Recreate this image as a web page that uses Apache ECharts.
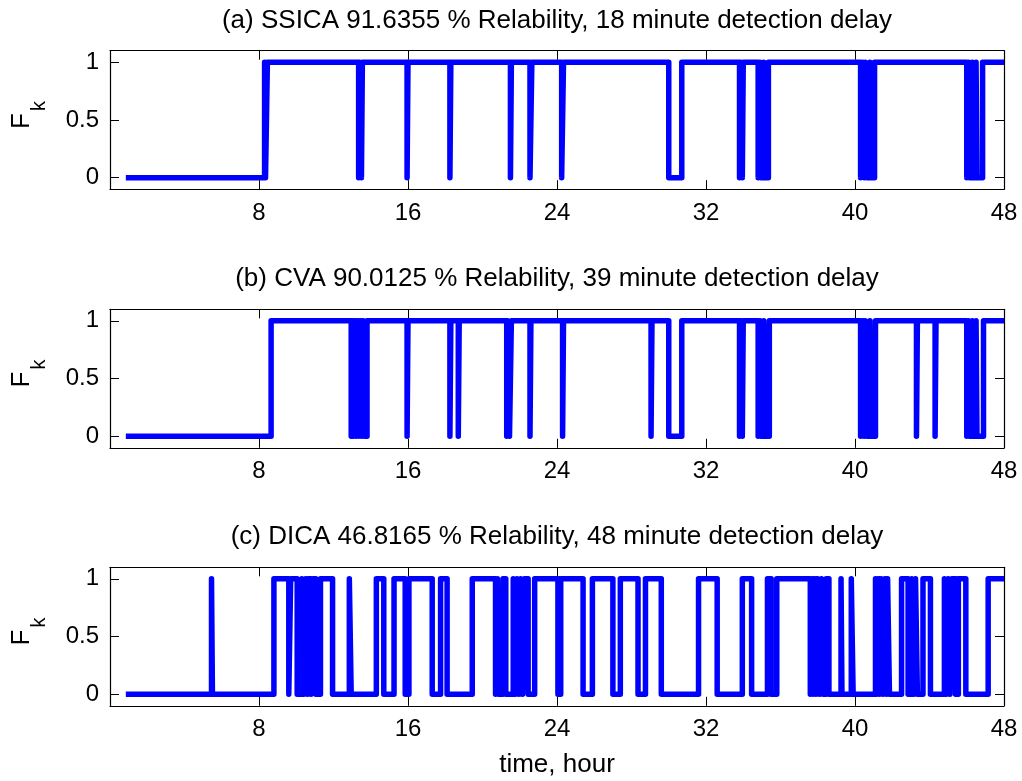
<!DOCTYPE html>
<html>
<head>
<meta charset="utf-8">
<script src="https://cdn.jsdelivr.net/npm/echarts@6/dist/echarts.min.js"></script>
<style>
html,body{margin:0;padding:0;background:#fff;}
#chart{width:1022px;height:781px;}
</style>
</head>
<body>
<div id="chart"></div>
<script>
// ---- data (hours) ----
const panelTitles = [
  '(a) SSICA 91.6355 % Relability, 18 minute detection delay',
  '(b) CVA 90.0125 % Relability, 39 minute detection delay',
  '(c) DICA 46.8165 % Relability, 48 minute detection delay'
];
const xTicks = [8, 16, 24, 32, 40, 48];
const yTicks = [0, 0.5, 1];
const tStart = 0.85;
const tEnd = 48;
// switch times of F_k (state toggles at each listed time, starting from 0)
const ssicaSwitch = [8.3, 8.35, 8.45,
  13.35, 13.4, 13.5, 13.55,
  15.95, 16.0,
  18.25, 18.3,
  21.5, 21.55,
  22.55, 22.65,
  24.25, 24.35,
  30.0, 30.7,
  33.8, 33.85, 33.95, 34.0,
  34.8, 34.9, 34.95, 35.1, 35.2, 35.35,
  40.3, 40.4, 40.5, 40.55, 40.65, 40.8, 40.85, 41.05,
  46.0, 46.1, 46.15, 46.3, 46.35, 46.5, 46.55, 46.85];
const cvaSwitch = [8.65,
  12.95, 13.0, 13.05, 13.15, 13.2, 13.3, 13.35, 13.45, 13.5, 13.6, 13.65, 13.8,
  15.95, 16.0,
  18.25, 18.3, 18.7, 18.75,
  21.3, 21.35, 21.45, 21.55,
  22.55, 22.6,
  24.3, 24.35,
  29.05, 29.1,
  30.0, 30.7,
  33.8, 33.85, 33.95, 34.0,
  34.8, 34.9, 34.95, 35.1, 35.2, 35.4,
  40.3, 40.4, 40.5, 40.55, 40.65, 40.8, 40.85, 41.1,
  43.3, 43.35,
  44.3, 44.35,
  46.0, 46.1, 46.15, 46.3, 46.35, 46.5, 46.55, 46.9];
const dicaSwitch = [5.45, 5.5,
  8.8, 9.6, 9.7, 10.05,
  10.3, 10.4, 10.5, 10.6, 10.65, 10.8, 10.9, 11.05, 11.3, 11.95,
  12.85, 12.95,
  14.3, 14.7,
  15.25, 15.85, 16.05, 17.3,
  17.75, 18.1,
  19.45, 20.7, 20.8, 20.85, 21.1, 21.25,
  21.65, 21.75, 21.85, 21.95, 22.05, 22.15, 22.25, 22.45,
  22.8, 24.05, 24.2, 25.4,
  25.9, 27.0,
  27.4, 28.35,
  28.75, 29.6,
  31.6, 32.6,
  33.95, 34.45,
  35.3, 35.5,
  35.8, 37.6, 37.7, 37.75, 37.85, 37.9, 38.0, 38.1, 38.2, 38.3, 38.45, 38.6,
  39.25, 39.3,
  39.8, 39.9,
  41.1, 41.15, 41.25, 41.3, 41.4, 41.5, 41.6, 41.7, 41.75, 41.85,
  42.5, 42.85,
  43.05, 43.15, 43.25, 43.35,
  43.65, 44.05,
  44.8, 44.9, 45.0, 45.1, 45.2, 45.4,
  45.55, 45.95,
  47.15];
const panelSwitches = [ssicaSwitch, cvaSwitch, dicaSwitch];

// ---- layout ----
const FONT = 'Liberation Sans, Arial, Helvetica, sans-serif';
const gridLeft = 110, gridWidth = 894, gridHeight = 138.5;
const gridTops = [50.7, 309.3, 567.3];

// explicit vertical steps: at each switch time, a point at the old and the new state
function buildSteps(sw) {
  const pts = [[tStart, 0]];
  let v = 0;
  sw.forEach(t => { pts.push([t, v]); v = 1 - v; pts.push([t, v]); });
  pts.push([tEnd, v]);
  return pts;
}

const grids = [], xAxes = [], yAxes = [], series = [], graphics = [];
gridTops.forEach((top, i) => {
  grids.push({left: gridLeft, top: top, width: gridWidth, height: gridHeight, show: false});
  const axLine = {show: true, onZero: false, lineStyle: {color: '#000', width: 1.2}};
  const tick = {show: true, inside: true, length: 9, lineStyle: {color: '#000', width: 1}};
  xAxes.push({type: 'value', gridIndex: i, position: 'bottom', min: 0, max: 48, interval: 8,
    axisLine: axLine, axisTick: tick, splitLine: {show: false},
    axisLabel: {show: true, showMinLabel: false, margin: 12, color: '#000', fontSize: 24, fontFamily: FONT}});
  xAxes.push({type: 'value', gridIndex: i, position: 'top', min: 0, max: 48, interval: 8,
    axisLine: axLine, axisTick: tick, splitLine: {show: false}, axisLabel: {show: false}});
  yAxes.push({type: 'value', gridIndex: i, position: 'left', min: -0.1, max: 1.1,
    axisLine: axLine, splitLine: {show: false},
    axisTick: Object.assign({customValues: yTicks}, tick),
    axisLabel: {show: true, customValues: yTicks, margin: 11, color: '#000', fontSize: 24, fontFamily: FONT,
      formatter: v => String(Math.round(v * 10) / 10)}});
  yAxes.push({type: 'value', gridIndex: i, position: 'right', min: -0.1, max: 1.1,
    axisLine: axLine, splitLine: {show: false},
    axisTick: Object.assign({customValues: yTicks}, tick),
    axisLabel: {show: false}});
  series.push({type: 'line', xAxisIndex: 2 * i, yAxisIndex: 2 * i, data: buildSteps(panelSwitches[i]),
    showSymbol: false, symbol: 'none', animation: false, silent: true,
    lineStyle: {color: '#0000ff', width: 5.5, join: 'round', cap: 'butt'}});
  graphics.push({type: 'text', x: gridLeft + gridWidth / 2, y: top - 30,
    style: {text: panelTitles[i], fill: '#000', font: '26px ' + FONT, align: 'center', verticalAlign: 'middle'}});
  const yc = top + gridHeight / 2 - 2;
  graphics.push({type: 'text', x: 22, y: yc + 3, rotation: Math.PI / 2,
    style: {text: 'F', fill: '#000', font: '26px ' + FONT, align: 'center', verticalAlign: 'middle'}});
  graphics.push({type: 'text', x: 39, y: yc - 12, rotation: Math.PI / 2,
    style: {text: 'k', fill: '#000', font: '20px ' + FONT, align: 'center', verticalAlign: 'middle'}});
});
graphics.push({type: 'text', x: gridLeft + gridWidth / 2, y: 765,
  style: {text: 'time, hour', fill: '#000', font: '26px ' + FONT, align: 'center', verticalAlign: 'middle'}});

const chart = echarts.init(document.getElementById('chart'), null, {renderer: 'canvas'});
chart.setOption({
  animation: false,
  backgroundColor: '#fff',
  grid: grids,
  xAxis: xAxes,
  yAxis: yAxes,
  series: series,
  graphic: graphics
});
</script>
</body>
</html>
